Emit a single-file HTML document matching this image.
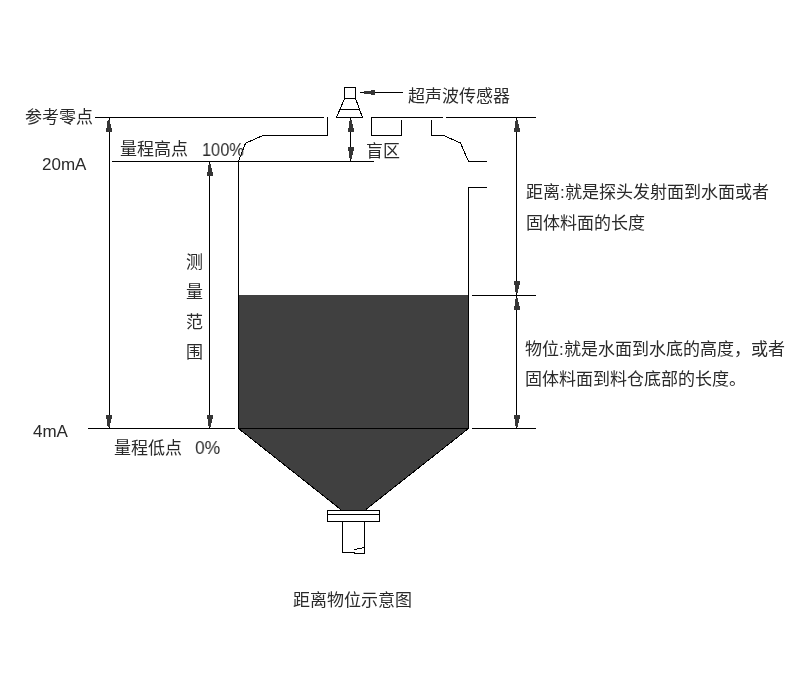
<!DOCTYPE html>
<html lang="zh-CN"><head><meta charset="utf-8">
<style>
html,body{margin:0;padding:0;background:#fff;}
body{width:790px;height:686px;position:relative;overflow:hidden;font-family:"Liberation Sans",sans-serif;color:#2a2a2a;}
svg{position:absolute;left:0;top:0;}
.t{position:absolute;white-space:nowrap;font-size:17px;line-height:20px;will-change:transform;}
</style></head><body>
<svg width="790" height="686" viewBox="0 0 790 686">
<defs>
  <path id="up" d="M0 0H2V4H3V8H4V12H-2V8H-1V1H0Z"/>
  <path id="dn" d="M-2 0H4V4H3V8H2V12H0V11H-1V4H-2Z"/>
</defs>
<g stroke="#000" stroke-width="1" fill="none" shape-rendering="crispEdges">
  <path d="M95 117.5H324"/>
  <path d="M327.5 117V136M327.5 135.5H263"/>
  <path d="M371 117.5H443M446 117.5H536"/>
  <path d="M371.5 117V136M371 135.5H402M401.5 120V136"/>
  <path d="M431.5 120V136M431 135.5H444"/>
  <path d="M468 161.5H487"/>
  <path d="M468 187.5H487M468.5 187V429"/>
  <path d="M238.5 161V429"/>
  <path d="M112 161.5H374"/>
  <path d="M88 428.5H235"/>
  <path d="M472 428.5H536"/>
  <path d="M472 295.5H536"/>
  <path d="M109.5 118V428"/>
  <path d="M209.5 162V428"/>
  <path d="M516.5 118V428"/>
  <path d="M350.5 118V161"/>
  <path d="M360 92.5H403"/>
  <rect x="344.5" y="87.5" width="11" height="11"/>
  <path d="M340 109.5H360"/>
  <path d="M336 117.5H363"/>
  <rect x="327.5" y="510.5" width="52" height="11"/>
  <path d="M327 514.5H380"/>
  <path d="M342.5 521V553M364.5 521V554M342 552.5H354.5M354 553.5H365"/>
</g>
<g stroke="#000" stroke-width="1" fill="none" shape-rendering="crispEdges">
  <path d="M344.5 98.5L336.5 117.5M355.5 98.5L362.5 117.5"/>
  <path d="M263 135.5L246 143Q244.6 144.6 244 147L238.5 161"/>
  <path d="M443.5 135.5L460.5 143L468.5 161.5"/>
  <path d="M354.5 549.5L364 547.5"/>
</g>
<rect x="239" y="295" width="229" height="133" fill="#404040"/>
<path d="M238.5 428.5H468.5L365.8 510H340.8Z" fill="#404040"/>
<path d="M238.5 428.5L340.8 509.5M468.5 428.5L365.8 509.5" stroke="#000" stroke-width="1" fill="none" shape-rendering="crispEdges"/>
<path d="M238 428.5H469" stroke="#000" stroke-width="1" shape-rendering="crispEdges"/>
<g fill="#353535" stroke="#111" stroke-width="0" shape-rendering="crispEdges">
  <use href="#up" x="108" y="120"/>
  <use href="#dn" x="108" y="415"/>
  <use href="#up" x="209" y="164"/>
  <use href="#dn" x="209" y="415"/>
  <use href="#up" x="350" y="120"/>
  <use href="#dn" x="350" y="147"/>
  <use href="#up" x="516" y="120"/>
  <use href="#dn" x="516" y="281"/>
  <use href="#up" x="516" y="298"/>
  <use href="#dn" x="516" y="415"/>
  <path d="M364 91H371V94H364ZM371 90H375V95H371Z"/>
</g>
</svg>
<div class="t" style="left:25px;top:108px">参考零点</div>
<div class="t" style="left:42px;top:155px">20mA</div>
<div class="t" style="left:120px;top:140px">量程高点</div>
<div class="t" style="left:202px;top:140px;font-size:19px;transform:scaleX(0.86);transform-origin:0 0">100%</div>
<div class="t" style="left:408px;top:87px">超声波传感器</div>
<div class="t" style="left:366px;top:142px">盲区</div>
<div class="t" style="left:526px;top:183px">距离:就是探头发射面到水面或者</div>
<div class="t" style="left:526px;top:214px">固体料面的长度</div>
<div class="t" style="left:186px;top:253px">测</div>
<div class="t" style="left:186px;top:283px">量</div>
<div class="t" style="left:186px;top:313px">范</div>
<div class="t" style="left:186px;top:343px">围</div>
<div class="t" style="left:525px;top:340px">物位:就是水面到水底的高度，或者</div>
<div class="t" style="left:525px;top:370px">固体料面到料仓底部的长度。</div>
<div class="t" style="left:33px;top:422px">4mA</div>
<div class="t" style="left:114px;top:439px">量程低点</div>
<div class="t" style="left:195px;top:438px;font-size:19px;transform:scaleX(0.92);transform-origin:0 0">0%</div>
<div class="t" style="left:293px;top:591px">距离物位示意图</div>
</body></html>
